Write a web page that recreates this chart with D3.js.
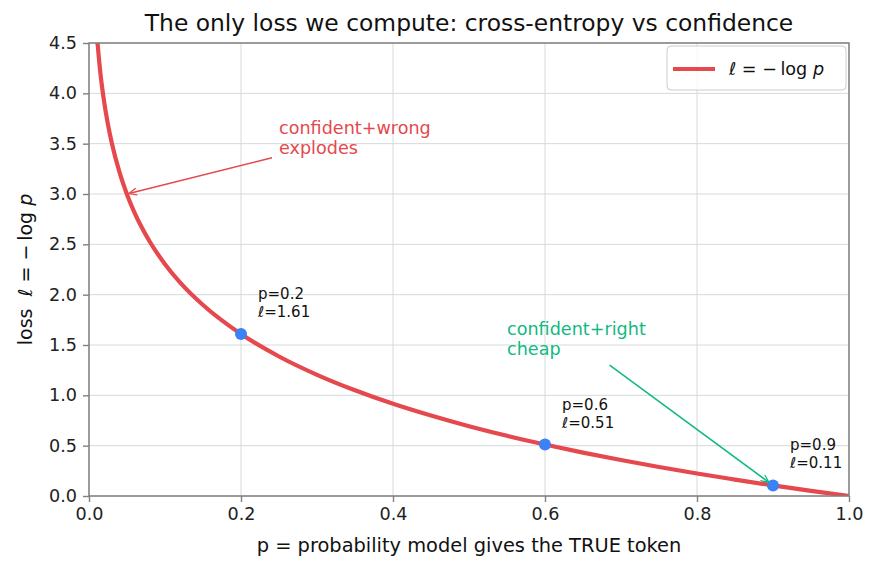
<html>
<head>
<script src="https://d3js.org/d3.v7.min.js"></script>
<style>
body { margin:0; background:#fff; }
svg text { font-family: "DejaVu Sans", sans-serif; }
</style>
</head>
<body>
<script>
var width = 878, height = 569;
var margin = {top:43, right:29, bottom:73, left:89};
var w = width - margin.left - margin.right;
var h = height - margin.top - margin.bottom;

// curve samples: p and loss
var pValues    = [0.01, 0.015, 0.02, 0.025, 0.03, 0.04, 0.05, 0.06, 0.07, 0.08, 0.1, 0.12, 0.15, 0.2, 0.25, 0.3, 0.35, 0.4, 0.45, 0.5, 0.55, 0.6, 0.65, 0.7, 0.75, 0.8, 0.85, 0.9, 0.95, 1.0];
var lossValues = [4.605, 4.200, 3.912, 3.689, 3.507, 3.219, 2.996, 2.813, 2.659, 2.526, 2.303, 2.120, 1.897, 1.609, 1.386, 1.204, 1.050, 0.916, 0.799, 0.693, 0.598, 0.511, 0.431, 0.357, 0.288, 0.223, 0.163, 0.105, 0.051, 0.0];
// marked points
var markP    = [0.2, 0.6, 0.9];
var markLoss = [1.609, 0.511, 0.105];
var markText = ["1.61", "0.51", "0.11"];
var xTicks = [0, 0.2, 0.4, 0.6, 0.8, 1.0];
var yTicks = [0, 0.5, 1.0, 1.5, 2.0, 2.5, 3.0, 3.5, 4.0, 4.5];

var red = "#e5484d", blue = "#3b82f6", green = "#10b981";

var svg = d3.select("body").append("svg")
    .attr("width", width).attr("height", height);
var defs = svg.append("defs");
defs.append("clipPath").attr("id", "clip")
    .append("rect").attr("width", w).attr("height", h);
[["arrRed", red], ["arrGreen", green]].forEach(function(a){
  defs.append("marker").attr("id", a[0])
    .attr("viewBox", "0 0 10 10").attr("refX", 10).attr("refY", 5)
    .attr("markerWidth", 10).attr("markerHeight", 8).attr("orient", "auto")
    .attr("markerUnits", "userSpaceOnUse")
    .append("path").attr("d", "M0,0.5 L10,5 L0,9.5").attr("fill", "none")
    .attr("stroke", a[1]).attr("stroke-width", 1.5);
});

var g = svg.append("g").attr("transform", "translate(" + margin.left + "," + margin.top + ")");
var x = d3.scaleLinear().domain([0, 1]).range([0, w]);
var y = d3.scaleLinear().domain([0, 4.5]).range([h, 0]);

// grid
g.append("g").selectAll("line").data(xTicks).enter().append("line")
  .attr("x1", x).attr("x2", x).attr("y1", 0).attr("y2", h)
  .attr("stroke", "#d5d9dd").attr("stroke-width", 1);
g.append("g").selectAll("line").data(yTicks).enter().append("line")
  .attr("y1", y).attr("y2", y).attr("x1", 0).attr("x2", w)
  .attr("stroke", "#d5d9dd").attr("stroke-width", 1);

// curve
var pts = pValues.map(function(p, i){ return [p, lossValues[i]]; });
g.append("path").datum(pts)
  .attr("clip-path", "url(#clip)")
  .attr("fill", "none").attr("stroke", red).attr("stroke-width", 4.2)
  .attr("d", d3.line().x(function(d){ return x(d[0]); }).y(function(d){ return y(d[1]); }).curve(d3.curveMonotoneX));

// points + labels
markP.forEach(function(p, i){
  g.append("circle").attr("cx", x(p)).attr("cy", y(markLoss[i])).attr("r", 6).attr("fill", blue);
  g.append("text").attr("font-size", 15).attr("fill", "#111")
    .attr("x", x(p) + 17).attr("y", y(markLoss[i]) - 35)
    .text("p=" + p);
  var t2 = g.append("text").attr("font-size", 15).attr("fill", "#111")
    .attr("x", x(p) + 17).attr("y", y(markLoss[i]) - 17);
  t2.append("tspan").attr("font-style", "italic").text("ℓ");
  t2.append("tspan").text("=" + markText[i]);
});

// annotations
var ann = g.append("g").attr("font-size", 17.6);
ann.append("text").attr("x", x(0.25)).attr("y", y(3.4) - 20).attr("fill", red).text("confident+wrong");
ann.append("text").attr("x", x(0.25)).attr("y", y(3.4)).attr("fill", red).text("explodes");
g.append("line").attr("x1", x(0.25) - 7).attr("y1", y(3.4) + 4)
  .attr("x2", x(0.05) + 2).attr("y2", y(3.0) - 0.5)
  .attr("stroke", red).attr("stroke-width", 1.5).attr("marker-end", "url(#arrRed)");
ann.append("text").attr("x", x(0.55)).attr("y", y(1.4) - 20).attr("fill", green).text("confident+right");
ann.append("text").attr("x", x(0.55)).attr("y", y(1.4)).attr("fill", green).text("cheap");
g.append("line").attr("x1", x(0.685)).attr("y1", y(1.4) + 10)
  .attr("x2", x(0.9) - 4).attr("y2", y(0.105) - 3)
  .attr("stroke", green).attr("stroke-width", 1.5).attr("marker-end", "url(#arrGreen)");

// axes
var xAxis = g.append("g").attr("transform", "translate(0," + h + ")")
  .call(d3.axisBottom(x).tickValues(xTicks).tickFormat(d3.format(".1f")).tickSize(6).tickPadding(6));
var yAxis = g.append("g")
  .call(d3.axisLeft(y).tickValues(yTicks).tickFormat(d3.format(".1f")).tickSize(6).tickPadding(6));
[xAxis, yAxis].forEach(function(a){
  a.attr("font-family", null).attr("font-size", null);
  a.select(".domain").remove();
  a.selectAll("line").attr("stroke", "#808080").attr("stroke-width", 1.4);
  a.selectAll("text").attr("font-size", 17.6).attr("fill", "#222");
});
g.append("rect").attr("width", w).attr("height", h).attr("fill", "none")
  .attr("stroke", "#808080").attr("stroke-width", 1.5);

// titles
svg.append("text").attr("x", margin.left + w / 2).attr("y", 31)
  .attr("text-anchor", "middle").attr("font-size", 23.4).attr("fill", "#111")
  .text("The only loss we compute: cross-entropy vs confidence");
svg.append("text").attr("x", margin.left + w / 2).attr("y", 552)
  .attr("text-anchor", "middle").attr("font-size", 19.4).attr("fill", "#111")
  .text("p = probability model gives the TRUE token");
var yl = svg.append("text").attr("transform", "translate(32," + (margin.top + h / 2) + ") rotate(-90)")
  .attr("text-anchor", "middle").attr("font-size", 19).attr("fill", "#111");
yl.append("tspan").text("loss\u00a0\u00a0");
yl.append("tspan").attr("font-style", "italic").text("ℓ");
yl.append("tspan").text(" = \u2212\u2009log ");
yl.append("tspan").attr("font-style", "italic").text("p");

// legend
var lg = g.append("g").attr("transform", "translate(" + (w - 182) + ",3)");
lg.append("rect").attr("width", 179).attr("height", 44).attr("rx", 4)
  .attr("fill", "#fff").attr("fill-opacity", 0.85).attr("stroke", "#cccccc");
lg.append("line").attr("x1", 6).attr("x2", 48).attr("y1", 23).attr("y2", 23)
  .attr("stroke", red).attr("stroke-width", 4.2);
var lt = lg.append("text").attr("x", 62).attr("y", 29).attr("font-size", 17.6).attr("fill", "#111");
lt.append("tspan").attr("font-style", "italic").text("ℓ");
lt.append("tspan").text(" = \u2212\u2009log ");
lt.append("tspan").attr("font-style", "italic").text("p");
</script>
</body>
</html>
